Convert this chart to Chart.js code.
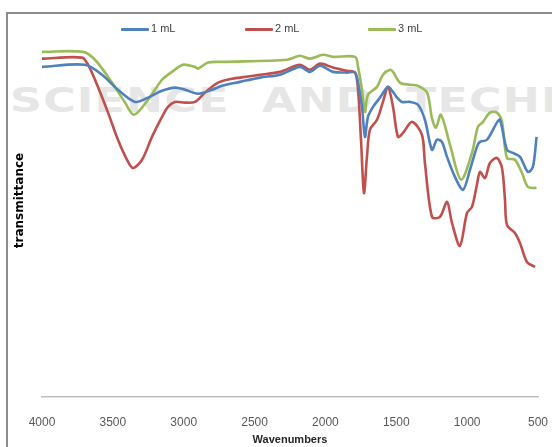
<!DOCTYPE html>
<html><head><meta charset="utf-8">
<script src="https://cdn.jsdelivr.net/npm/chart.js@4.4.1/dist/chart.umd.min.js"></script>
<style>
html,body{margin:0;padding:0;background:#fff;}
#wrap{position:relative;width:552px;height:447px;overflow:hidden;}
#frame{position:absolute;left:6px;top:12px;width:600px;height:500px;border-left:2px solid #8c8c8c;border-top:2px solid #8c8c8c;}
#wm{position:absolute;left:10px;top:80px;font:bold 34px "DejaVu Sans";color:#e6e6e6;letter-spacing:1px;word-spacing:12px;white-space:nowrap;transform:scaleX(1.3);transform-origin:left top;}
#legend{position:absolute;top:20px;left:0;width:552px;height:16px;font:11px "Liberation Sans";color:#404040;}
.item{position:absolute;top:0;height:16px;line-height:16px;white-space:nowrap;}
.sw{display:inline-block;width:28px;height:3px;vertical-align:middle;margin-right:2px;border-radius:1px;}
canvas{position:absolute;left:0;top:0;}
</style></head>
<body>
<div id="wrap">
  <div id="frame"></div>
  <div id="wm">SCIENCE AND TECHNOLOGY</div>
  <canvas id="c" width="552" height="447"></canvas>
  <div id="legend"></div>
</div>
<script>
// Series labels and colours
const seriesNames = ['1 mL', '2 mL', '3 mL'];
const seriesColors = ['#4F81BD', '#C0504D', '#9BBB59'];

// 1 mL (blue): wavenumber (cm-1) and transmittance (arbitrary %)
const wn1 = [4000,3697,3577,3464,3344,3252,3153,3062,2991,2899,2800,2730,2603,2462,2321,2180,2109,2038,1947,1848,1791,1770,1742,1721,1700,1664,1615,1559,1523,1495,1460,1403,1347,1298,1248,1213,1178,1142,1086,1029,980,931,910,860,790,768,719,677,627,571,536,510];
const t1  = [92.4,93.0,90.2,86.0,82.6,83.8,85.7,86.6,86.0,84.9,86.0,87.1,88.2,89.4,90.2,92.4,91.0,92.7,91.0,90.8,90.8,88.0,81.2,72.8,78.4,81.2,83.8,86.8,85.4,83.8,82.6,82.6,81.8,77.6,69.2,72.0,71.4,67.2,61.6,58.0,63.6,70.0,71.4,72.0,76.8,77.6,69.2,68.3,67.2,63.0,64.4,72.8];

// 2 mL (red)
const wn2 = [4000,3718,3675,3605,3534,3464,3400,3358,3294,3224,3153,3111,3062,2991,2920,2850,2758,2659,2603,2462,2321,2180,2109,2038,1947,1848,1791,1770,1749,1728,1707,1686,1636,1594,1559,1523,1488,1453,1389,1319,1298,1248,1192,1142,1107,1051,1001,966,931,910,874,839,790,754,733,719,663,627,578,521];
const t2  = [94.7,95.0,93.0,86.8,79.6,72.0,66.4,64.1,66.4,72.8,78.4,81.2,82.6,82.4,82.6,85.2,88.0,89.1,89.4,90.2,91.0,93.0,91.6,93.3,92.2,91.3,90.8,86.0,72.0,57.1,67.2,74.8,77.6,82.6,86.8,81.2,72.8,73.9,77.0,73.4,65.5,50.4,50.4,54.6,48.7,42.3,51.5,53.2,59.4,63.0,61.3,65.5,66.9,64.1,55.2,48.2,45.9,43.1,37.8,36.4];

// 3 mL (green)
const wn3 = [4000,3711,3626,3506,3414,3351,3252,3153,3083,3005,2920,2899,2829,2730,2271,2180,2109,2017,1947,1791,1770,1742,1721,1700,1636,1594,1544,1523,1474,1403,1347,1283,1248,1220,1185,1121,1043,966,924,888,839,790,754,719,663,613,571,510];
const t3  = [96.6,96.6,94.4,88.0,82.4,79.0,83.2,88.8,91.0,93.0,92.4,91.9,93.6,93.8,94.4,95.5,94.7,95.8,95.2,95.2,92.4,86.0,79.8,84.6,86.8,90.2,91.6,91.0,88.0,87.4,87.1,85.2,78.0,75.4,79.0,70.6,60.8,68.3,75.6,77.0,79.6,79.6,77.0,66.9,66.4,62.7,58.8,58.5];

// Axis ticks
const xTicks = [4000,3500,3000,2500,2000,1500,1000,500];
const xTitle = 'Wavenumbers';
const yTitle = 'transmittance';

const xs = [wn1, wn2, wn3];
const ys = [t1, t2, t3];

// HTML legend
const legendLefts = [121, 245, 368];
const lg = document.getElementById('legend');
seriesNames.forEach((n, i) => {
  const d = document.createElement('div');
  d.className = 'item';
  d.style.left = legendLefts[i] + 'px';
  const sw = document.createElement('span');
  sw.className = 'sw';
  sw.style.background = seriesColors[i];
  d.appendChild(sw);
  d.appendChild(document.createTextNode(n));
  lg.appendChild(d);
});

new Chart(document.getElementById('c'), {
  type: 'line',
  data: {
    datasets: seriesNames.map((n, i) => ({
      label: n,
      data: xs[i].map((w, k) => ({ x: w, y: ys[i][k] })),
      borderColor: seriesColors[i],
      backgroundColor: seriesColors[i],
      borderWidth: 2.6,
      pointRadius: 0,
      tension: 0.3,
      fill: false
    }))
  },
  options: {
    responsive: false,
    animation: false,
    devicePixelRatio: 1,
    layout: { padding: { left: 7, right: 14, top: 4, bottom: 0 } },
    plugins: { legend: { display: false }, tooltip: { enabled: false } },
    scales: {
      x: {
        type: 'linear',
        reverse: true,
        min: 500,
        max: 4000,
        afterFit: s => { s.height = 50; s.paddingLeft = 0; s.paddingRight = 0; },
        afterBuildTicks: s => { s.ticks = xTicks.map(v => ({ value: v })); },
        ticks: {
          padding: 10,
          color: '#595959',
          font: { family: 'Liberation Sans', size: 12 },
          maxRotation: 0,
          autoSkip: false,
          callback: v => String(v)
        },
        grid: { display: false },
        border: { display: true, color: '#c0c0c0', width: 1.5 },
        title: {
          display: true,
          text: xTitle,
          color: '#262626',
          font: { family: 'Liberation Sans', size: 11, weight: 'bold' },
          padding: { top: 6, bottom: 0 }
        }
      },
      y: {
        min: 0,
        max: 110,
        afterFit: s => { s.width = 35; },
        ticks: { display: false },
        grid: { display: false },
        border: { display: false },
        title: {
          display: true,
          text: yTitle,
          color: '#000',
          font: { family: 'DejaVu Sans', size: 12, weight: 'bold' },
          padding: { top: 6, bottom: 0 }
        }
      }
    }
  }
});
</script>
</body></html>
